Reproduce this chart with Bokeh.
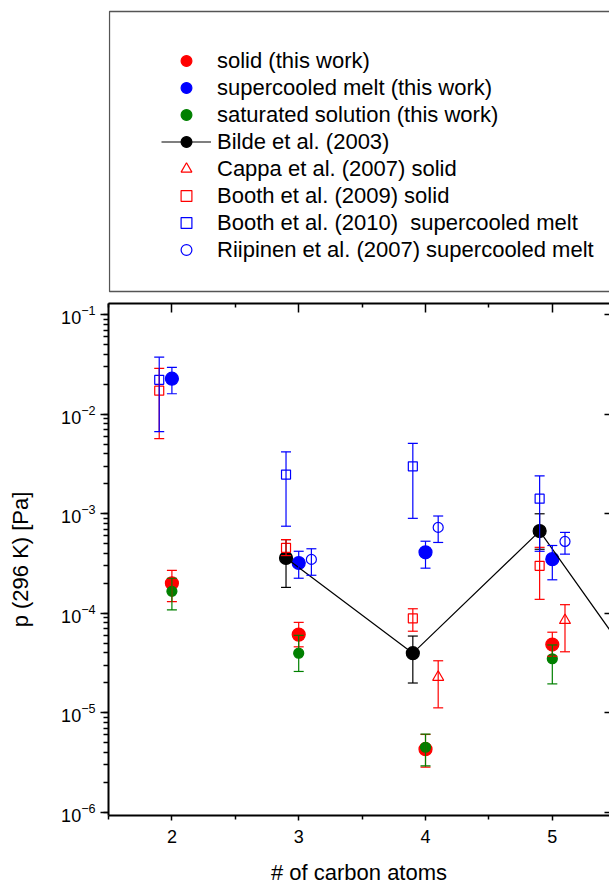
from bokeh.plotting import figure
from bokeh.models import (Range1d, LogAxis, LinearAxis, FixedTicker, LogTicker, Whisker,
                          TeeHead, ColumnDataSource, Legend, LegendItem, BoxAnnotation,
                          CustomJSTickFormatter)
from bokeh.layouts import column
from bokeh.embed import file_html
from bokeh.resources import INLINE

FONT = "Liberation Sans"

# ---------------- data ----------------
x_ticks = [2, 3, 4, 5]
x_minor = [1.5, 2.5, 3.5, 4.5, 5.5]

solid_x = [2, 3, 4, 5]
solid_p = [2.0e-4, 6.1e-5, 4.3e-6, 4.85e-5]
solid_lo = [1.31e-4, 4.6e-5, 2.84e-6, 3.7e-5]
solid_hi = [2.7e-4, 8.1e-5, 6.05e-6, 6.45e-5]

melt_x = [2, 3, 4, 5]
melt_p = [2.28e-2, 3.2e-4, 4.1e-4, 3.5e-4]
melt_lo = [1.61e-2, 2.25e-4, 2.84e-4, 2.17e-4]
melt_hi = [2.97e-2, 4.2e-4, 5.3e-4, 4.8e-4]

sat_x = [2, 3, 4, 5]
sat_p = [1.66e-4, 3.97e-5, 4.5e-6, 3.49e-5]
sat_lo = [1.08e-4, 2.6e-5, 2.93e-6, 1.95e-5]
sat_hi = [2.25e-4, 6.0e-5, 6.1e-6, 4.8e-5]

bilde_x = [2.9, 3.9, 4.9, 5.9]
bilde_p = [3.6e-4, 3.97e-5, 6.7e-4, 1.07e-5]
bilde_lo = [1.82e-4, 1.99e-5, 4.4e-4, 7.0e-6]
bilde_hi = [5.5e-4, 5.9e-5, 1.0e-3, 1.6e-5]

cappa_x = [4.1, 5.1]
cappa_p = [2.28e-5, 8.5e-5]
cappa_lo = [1.12e-5, 4.1e-5]
cappa_hi = [3.33e-5, 1.22e-4]

booth09_x = [1.9, 2.9, 3.9, 4.9]
booth09_p = [1.73e-2, 4.55e-4, 8.9e-5, 3.0e-4]
booth09_lo = [5.7e-3, 3.8e-4, 6.6e-5, 1.38e-4]
booth09_hi = [2.9e-2, 5.5e-4, 1.11e-4, 4.6e-4]

booth10_x = [1.9, 2.9, 3.9, 4.9]
booth10_p = [2.22e-2, 2.48e-3, 3.0e-3, 1.42e-3]
booth10_lo = [6.7e-3, 7.5e-4, 9.0e-4, 4.2e-4]
booth10_hi = [3.75e-2, 4.2e-3, 5.1e-3, 2.4e-3]

riip_x = [3.1, 4.1, 5.1]
riip_p = [3.48e-4, 7.3e-4, 5.27e-4]
riip_lo = [2.41e-4, 5.15e-4, 3.93e-4]
riip_hi = [4.45e-4, 9.5e-4, 6.5e-4]

labels = ["solid (this work)", "supercooled melt (this work)", "saturated solution (this work)",
          "Bilde et al. (2003)", "Cappa et al. (2007) solid", "Booth et al. (2009) solid",
          "Booth et al. (2010)  supercooled melt", "Riipinen et al. (2007) supercooled melt"]
x_title = "# of carbon atoms"
y_title = "p (296 K) [Pa]"

RED, BLUE, GREEN, BLACK = "#ff0000", "#0000ff", "#008000", "#000000"

# (xs, ps, los, his, marker, colour, fill, size, joined)
specs = [
    (solid_x, solid_p, solid_lo, solid_hi, "circle", RED, RED, 13, False),
    (melt_x, melt_p, melt_lo, melt_hi, "circle", BLUE, BLUE, 13, False),
    (sat_x, sat_p, sat_lo, sat_hi, "circle", GREEN, GREEN, 10, False),
    (bilde_x, bilde_p, bilde_lo, bilde_hi, "circle", BLACK, BLACK, 13, True),
    (cappa_x, cappa_p, cappa_lo, cappa_hi, "triangle", RED, "white", 11, False),
    (booth09_x, booth09_p, booth09_lo, booth09_hi, "square", RED, "white", 9, False),
    (booth10_x, booth10_p, booth10_lo, booth10_hi, "square", BLUE, "white", 9, False),
    (riip_x, riip_p, riip_lo, riip_hi, "circle", BLUE, "white", 10, False),
]
sources = [ColumnDataSource(dict(x=s[0], p=s[1], lo=s[2], hi=s[3])) for s in specs]

# ---------------- main plot ----------------
p = figure(width=609, height=587, y_axis_type="log",
           x_range=Range1d(1.5, 5.451), y_range=Range1d(10 ** -6.033, 10 ** -0.886),
           output_backend="svg", toolbar_location=None, title=None,
           min_border_left=108, min_border_right=0, min_border_top=3, min_border_bottom=72)
p.grid.visible = False
p.outline_line_color = None

xt = FixedTicker(ticks=x_ticks, minor_ticks=x_minor)
xa = p.xaxis[0]
xa.ticker = xt
xa.axis_label = x_title
ya = p.yaxis[0]
ya.ticker = LogTicker(num_minor_ticks=10)
ya.axis_label = y_title
for ax in (xa, ya):
    ax.axis_line_width = 2
    ax.axis_line_color = "black"
    ax.major_tick_in = 0
    ax.minor_tick_in = 0
    ax.major_tick_line_width = 1.5
    ax.minor_tick_line_width = 1.5
    ax.major_tick_line_color = "black"
    ax.minor_tick_line_color = "black"
    ax.major_label_text_font = FONT
    ax.major_label_text_font_size = "18px"
    ax.major_label_text_color = "black"
    ax.axis_label_text_font = FONT
    ax.axis_label_text_font_style = "normal"
    ax.axis_label_text_color = "black"
    ax.axis_label_text_font_size = "22px"
xa.major_tick_out = 5
xa.minor_tick_out = 4
xa.major_label_standoff = 9
xa.axis_label_standoff = 14
ya.major_tick_out = 8
ya.minor_tick_out = 5
ya.major_label_standoff = 5
ya.axis_label_standoff = 25

blank = CustomJSTickFormatter(code="return ''")
top = LinearAxis(ticker=xt, formatter=blank, axis_line_width=2, major_tick_in=9,
                 major_tick_out=0, minor_tick_in=4, minor_tick_out=0,
                 major_tick_line_width=1.5, minor_tick_line_width=1.5,
                 major_label_standoff=0)
p.add_layout(top, "above")
right = LogAxis(ticker=LogTicker(num_minor_ticks=10), formatter=blank, axis_line_color=None,
                major_tick_in=5, major_tick_out=0, minor_tick_in=0, minor_tick_out=0,
                major_tick_line_width=1.5, major_label_standoff=0)
p.add_layout(right, "right")

for src, (xs, ps, los, his, marker, color, fill, size, joined) in zip(sources, specs):
    if joined:
        p.line("x", "p", source=src, line_color=color, line_width=1.2)
    p.add_layout(Whisker(source=src, base="x", lower="lo", upper="hi", dimension="height",
                         line_color=color, line_width=1.2, level="glyph",
                         upper_head=TeeHead(size=10, line_color=color, line_width=1.2),
                         lower_head=TeeHead(size=10, line_color=color, line_width=1.2)))
    p.scatter("x", "p", source=src, marker=marker, size=size, line_color=color,
              fill_color=fill, line_width=1.2)

# ---------------- legend panel (frame aligned with the plot: x in page pixels) ----------------
leg = figure(width=609, height=300, x_range=Range1d(108, 609), y_range=Range1d(0, 300),
             output_backend="svg", toolbar_location=None, title=None,
             min_border_left=108, min_border_right=0, min_border_top=0, min_border_bottom=0,
             x_axis_location=None, y_axis_location=None)
leg.grid.visible = False
leg.outline_line_color = None
leg.add_layout(BoxAnnotation(left=109, right=900, bottom=9, top=289,
                             fill_color=None, fill_alpha=0, line_color="#555555",
                             line_alpha=1, line_width=1.3, line_dash="solid"))

items = []
for lab, src, (xs, ps, los, his, marker, color, fill, size, joined) in zip(labels, sources, specs):
    rs = []
    if joined:
        rs.append(leg.line("x", "p", source=src, line_color=color, line_width=1.2))
    rs.append(leg.scatter("x", "p", source=src, marker=marker, size=size, line_color=color,
                          fill_color=fill, line_width=1.2))
    items.append(LegendItem(label=lab, renderers=rs))

legend = Legend(items=items, location=(53, 37), border_line_color=None,
                background_fill_alpha=0, padding=0, margin=0, spacing=0,
                glyph_width=50, glyph_height=27, label_height=27, label_standoff=6,
                label_text_font=FONT, label_text_font_size="22px", label_text_color="black")
leg.add_layout(legend)

layout = column(leg, p, spacing=0)
open("out.html", "w").write(file_html(layout, INLINE))
